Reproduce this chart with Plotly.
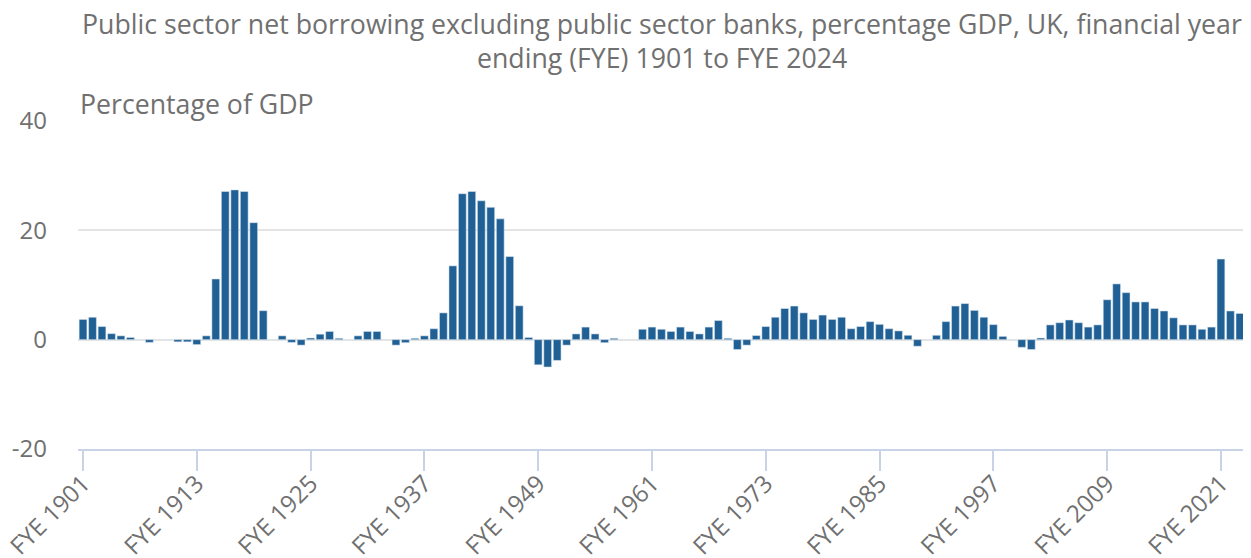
import plotly.graph_objects as go

years = list(range(1901, 2025))
values = [
    3.7, 4.1, 2.4, 1.1, 0.7, 0.4, 0.0, -0.5, 0.0, 0.0,      # 1901-1910
    -0.4, -0.4, -0.9, 0.7, 11.1, 27.1, 27.4, 27.1, 21.4, 5.3,  # 1911-1920
    0.0, 0.7, -0.5, -1.0, 0.3, 1.0, 1.5, 0.25, 0.0, 0.7,     # 1921-1930
    1.5, 1.5, 0.0, -1.0, -0.55, 0.25, 0.7, 2.0, 4.9, 13.5,   # 1931-1940
    26.7, 27.1, 25.4, 24.2, 22.1, 15.2, 6.2, 0.4, -4.6, -5.0,  # 1941-1950
    -3.8, -1.0, 1.05, 2.3, 1.05, -0.55, 0.25, 0.0, 0.0, 1.9,  # 1951-1960
    2.3, 1.9, 1.5, 2.3, 1.5, 1.05, 2.3, 3.5, 0.25, -1.8,      # 1961-1970
    -1.0, 0.75, 2.4, 4.1, 5.7, 6.15, 4.9, 3.7, 4.5, 3.7,      # 1971-1980
    4.1, 2.0, 2.4, 3.3, 2.8, 2.0, 1.6, 0.8, -1.2, 0.0,        # 1981-1990
    0.8, 3.3, 6.15, 6.6, 5.35, 4.1, 2.75, 0.6, 0.0, -1.4,     # 1991-2000
    -1.8, 0.3, 2.7, 3.1, 3.6, 3.1, 2.3, 2.7, 7.3, 10.2,       # 2001-2010
    8.6, 6.9, 6.9, 5.7, 5.25, 4.0, 2.7, 2.7, 1.9, 2.3,        # 2011-2020
    14.75, 5.25, 4.8, 4.4,                                    # 2021-2024
]
tick_years = list(range(1901, 2025, 12))
tick_labels = [f"FYE {y}" for y in tick_years]
y_ticks = [-20, 0, 20, 40]
y_tick_labels = ["-20", "0", "20", "40"]

title_line1 = "Public sector net borrowing excluding public sector banks, percentage GDP, UK, financial year"
title_line2 = "ending (FYE) 1901 to FYE 2024"
y_title = "Percentage of GDP"

FONT = "Open Sans"
GREY = "#707070"

fig = go.Figure()
fig.add_trace(go.Bar(
    x=years, y=values,
    marker=dict(color="#206095", line=dict(color="rgba(220,230,240,0.9)", width=0.6)),
    width=0.82,
    hovertemplate="%{x}: %{y}<extra></extra>",
))

fig.update_layout(
    width=1251, height=558,
    margin=dict(l=70, r=8, t=113, b=117),
    paper_bgcolor="white", plot_bgcolor="white",
    showlegend=False,
    font=dict(family=FONT, color=GREY, size=18),
    xaxis=dict(
        range=[1900.47, 2024.17],
        tickmode="array", tickvals=tick_years, ticktext=tick_labels,
        tickangle=-45, tickfont=dict(size=24, color=GREY, family=FONT),
        ticks="outside", ticklen=20, tickwidth=2, tickcolor="#c8d3e8",
        ticklabelstandoff=-11, ticklabeloverflow="allow",
        showline=True, linecolor="#c8d3e8", linewidth=2,
        showgrid=False, zeroline=False, automargin=False,
        anchor="y",
    ),
    yaxis=dict(
        range=[-20, 40], tickmode="array", tickvals=y_ticks, ticktext=y_tick_labels,
        tickfont=dict(size=24, color=GREY, family=FONT),
        ticks="", ticklabelstandoff=30,
        showgrid=True, gridcolor="#e4e4e4", gridwidth=2,
        zeroline=True, zerolinecolor="#e4e4e4", zerolinewidth=2,
        showline=False, automargin=False,
    ),
    annotations=[
        dict(text=title_line1, xref="paper", yref="paper", x=0.4975, y=1.296,
             xanchor="center", yanchor="middle", showarrow=False,
             font=dict(size=26.7, color=GREY, family=FONT)),
        dict(text=title_line2, xref="paper", yref="paper", x=0.4975, y=1.195,
             xanchor="center", yanchor="middle", showarrow=False,
             font=dict(size=26.7, color=GREY, family=FONT)),
        dict(text=y_title, xref="paper", yref="paper", x=0.0, y=1.052,
             xanchor="left", yanchor="middle", showarrow=False,
             font=dict(size=26.7, color=GREY, family=FONT)),
    ],
)

fig.write_html("out.html")
